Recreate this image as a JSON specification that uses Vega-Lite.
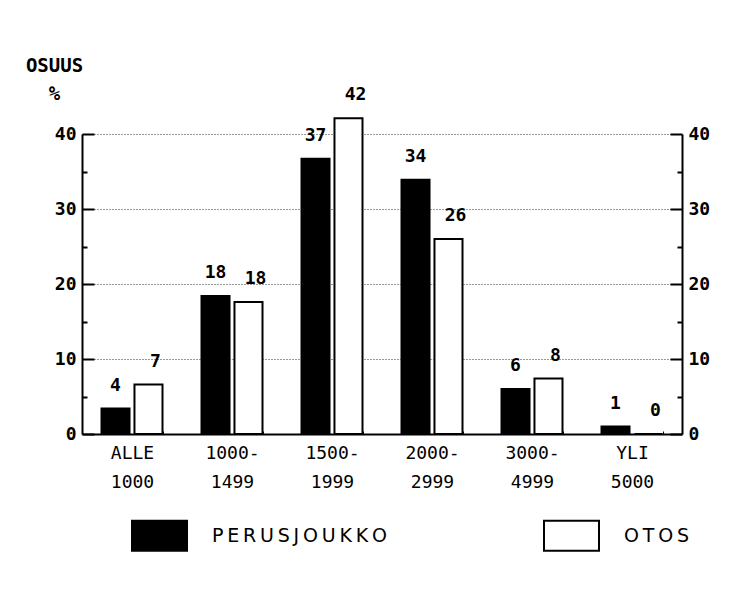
{
  "$schema": "https://vega.github.io/schema/vega-lite/v6.json",
  "width": 600,
  "height": 300,
  "autosize": {"type": "none"},
  "padding": {"left": 82, "top": 134, "right": 67, "bottom": 171},
  "background": "white",
  "config": {"view": {"stroke": null}, "font": "DejaVu Sans Mono"},
  "data": {
    "values": [
      {"category": "ALLE 1000", "series": "PERUSJOUKKO", "value": 3.4, "label": "4"},
      {"category": "ALLE 1000", "series": "OTOS", "value": 6.6, "label": "7"},
      {"category": "1000- 1499", "series": "PERUSJOUKKO", "value": 18.4, "label": "18"},
      {"category": "1000- 1499", "series": "OTOS", "value": 17.6, "label": "18"},
      {"category": "1500- 1999", "series": "PERUSJOUKKO", "value": 36.7, "label": "37"},
      {"category": "1500- 1999", "series": "OTOS", "value": 42.1, "label": "42"},
      {"category": "2000- 2999", "series": "PERUSJOUKKO", "value": 33.9, "label": "34"},
      {"category": "2000- 2999", "series": "OTOS", "value": 26.0, "label": "26"},
      {"category": "3000- 4999", "series": "PERUSJOUKKO", "value": 6.0, "label": "6"},
      {"category": "3000- 4999", "series": "OTOS", "value": 7.4, "label": "8"},
      {"category": "YLI 5000", "series": "PERUSJOUKKO", "value": 1.0, "label": "1"},
      {"category": "YLI 5000", "series": "OTOS", "value": 0, "label": "0"}
    ]
  },
  "encoding": {
    "x": {
      "field": "category", "type": "nominal", "sort": null,
      "scale": {"paddingInner": 0.39, "paddingOuter": 0.195},
      "axis": {
        "title": null, "labelAngle": 0,
        "labelExpr": "split(datum.label, ' ')",
        "labelFont": "DejaVu Sans Mono", "labelFontSize": 18, "labelColor": "black",
        "labelPadding": 13, "labelLineHeight": 29,
        "domainColor": "black", "domainWidth": 2,
        "tickColor": "black", "tickSize": -3, "tickWidth": 1, "tickBand": "extent"
      }
    },
    "xOffset": {"field": "series", "type": "nominal", "sort": ["PERUSJOUKKO", "OTOS"], "scale": {"paddingInner": 0.15}}
  },
  "layer": [
    {
      "mark": {"type": "bar", "stroke": "black", "strokeWidth": 2},
      "encoding": {
        "y": {
          "field": "value", "type": "quantitative",
          "scale": {"domain": [0, 40], "nice": false},
          "axis": {
            "orient": "left",
            "values": [0, 5, 10, 15, 20, 25, 30, 35, 40],
            "labelExpr": "datum.value % 10 === 0 ? datum.label : ''",
            "tickSize": {"condition": {"test": "datum.value % 10 === 0", "value": -12}, "value": -5},
            "grid": true,
            "gridOpacity": {"condition": {"test": "datum.value % 10 === 0 && datum.value > 0", "value": 1}, "value": 0},
            "gridDash": [1, 2], "gridColor": "#333", "gridWidth": 1,
            "domainColor": "black", "domainWidth": 2,
            "tickColor": "black", "tickWidth": 2,
            "labelFont": "DejaVu Sans Mono", "labelFontWeight": "bold", "labelFontSize": 18, "labelColor": "black",
            "labelPadding": 18,
            "title": ["OSUUS", "%"], "titleAngle": 0, "titleX": -28, "titleY": -69,
            "titleAlign": "center", "titleBaseline": "middle",
            "titleFont": "DejaVu Sans Mono", "titleFontSize": 19, "titleFontWeight": "bold",
            "titleLineHeight": 28, "titleColor": "black"
          }
        },
        "fill": {
          "field": "series", "type": "nominal",
          "scale": {"domain": ["PERUSJOUKKO", "OTOS"], "range": ["black", "white"]},
          "legend": {
            "orient": "none", "legendX": 49, "legendY": 373, "direction": "horizontal",
            "title": null,
            "symbolType": "M-1,-0.545H1V0.545H-1Z", "symbolSize": 3025,
            "symbolStrokeColor": "black", "symbolStrokeWidth": 2,
            "labelFont": "DejaVu Sans", "labelFontSize": 19, "labelColor": "black",
            "labelOffset": 24, "labelLimit": 400, "columnPadding": 153,
            "labelExpr": "join(split(datum.label, ''), '\u2009')"
          }
        }
      }
    },
    {
      "transform": [{"filter": "datum.series === 'PERUSJOUKKO'"}],
      "mark": {"type": "text", "baseline": "middle", "dy": -23, "font": "DejaVu Sans Mono", "fontWeight": "bold", "fontSize": 18, "color": "black"},
      "encoding": {
        "y": {
          "field": "value", "type": "quantitative",
          "axis": {
            "orient": "right",
            "values": [0, 5, 10, 15, 20, 25, 30, 35, 40],
            "labelExpr": "datum.value % 10 === 0 ? datum.label : ''",
            "tickSize": {"condition": {"test": "datum.value % 10 === 0", "value": -12}, "value": -5},
            "grid": false,
            "domainColor": "black", "domainWidth": 2,
            "tickColor": "black", "tickWidth": 2,
            "labelFont": "DejaVu Sans Mono", "labelFontWeight": "bold", "labelFontSize": 18, "labelColor": "black",
            "labelPadding": 18, "title": null
          }
        },
        "text": {"field": "label"}
      }
    },
    {
      "transform": [{"filter": "datum.series === 'OTOS'"}],
      "mark": {"type": "text", "baseline": "middle", "dy": -23, "dx": 7, "font": "DejaVu Sans Mono", "fontWeight": "bold", "fontSize": 18, "color": "black"},
      "encoding": {
        "y": {"field": "value", "type": "quantitative", "axis": null},
        "text": {"field": "label"}
      }
    }
  ],
  "resolve": {"axis": {"y": "independent"}}
}
